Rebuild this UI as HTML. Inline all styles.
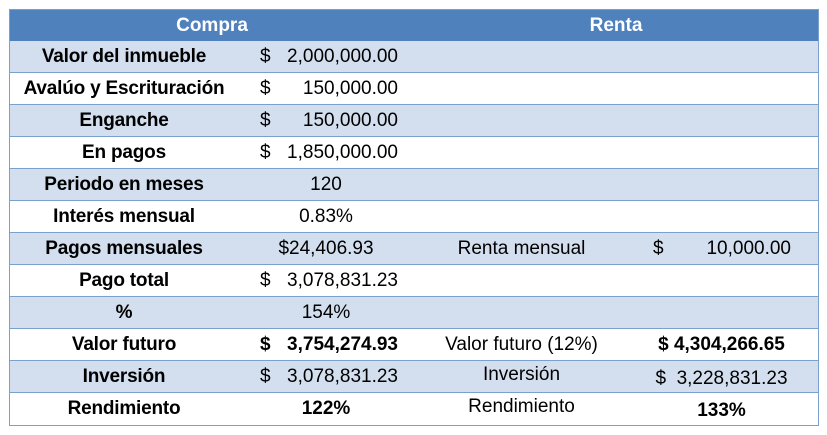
<!DOCTYPE html>
<html><head><meta charset="utf-8">
<style>
html,body{margin:0;padding:0;background:#fff;width:827px;height:435px;overflow:hidden}
body{font-family:"Liberation Sans",sans-serif;}
#tbl{position:absolute;left:9px;top:9px;width:810px;height:417px;border:1px solid #7ba0cd;box-sizing:border-box;}
.row{position:absolute;left:0;width:808px;height:32px;border-bottom:1px solid #7ba0cd;box-sizing:border-box;}
.b{background:#d3dfee}.w{background:#fff}
.hd{background:#4f81bd;color:#fff;font-weight:bold;border-bottom:1px solid #7ba0cd}
.c{position:absolute;top:0;height:31px;line-height:31px;font-size:19px;color:#000;white-space:nowrap}
.l1{left:0;width:228px;text-align:center;font-weight:bold;letter-spacing:-0.2px}
.v2{left:228px;width:160px;}
.v2 .d{position:absolute;left:22px}
.v2 .n{position:absolute;right:0}
.ct2{left:228px;width:176px;text-align:center}
.l3{left:404px;width:215px;text-align:center}
.v4{left:619px;width:162px}
.v4 .d{position:absolute;left:24px}
.v4 .n{position:absolute;right:0}
.ct4{left:619px;width:185px;text-align:center}
.bold{font-weight:bold}
</style></head><body>
<div id="tbl">
 <div class="row hd" style="top:0">
  <div class="c" style="left:0;width:404px;text-align:center;color:#fff">Compra</div>
  <div class="c" style="left:404px;width:404px;text-align:center;color:#fff">Renta</div>
 </div>
 <div class="row b" style="top:31px">
  <div class="c l1">Valor del inmueble</div>
  <div class="c v2"><span class="d">$</span><span class="n">2,000,000.00</span></div>
 </div>
 <div class="row w" style="top:63px">
  <div class="c l1">Avalúo y Escrituración</div>
  <div class="c v2"><span class="d">$</span><span class="n">150,000.00</span></div>
 </div>
 <div class="row b" style="top:95px">
  <div class="c l1">Enganche</div>
  <div class="c v2"><span class="d">$</span><span class="n">150,000.00</span></div>
 </div>
 <div class="row w" style="top:127px">
  <div class="c l1">En pagos</div>
  <div class="c v2"><span class="d">$</span><span class="n">1,850,000.00</span></div>
 </div>
 <div class="row b" style="top:159px">
  <div class="c l1">Periodo en meses</div>
  <div class="c ct2">120</div>
 </div>
 <div class="row w" style="top:191px">
  <div class="c l1">Interés mensual</div>
  <div class="c ct2">0.83%</div>
 </div>
 <div class="row b" style="top:223px">
  <div class="c l1">Pagos mensuales</div>
  <div class="c ct2">$24,406.93</div>
  <div class="c l3">Renta mensual</div>
  <div class="c v4"><span class="d">$</span><span class="n">10,000.00</span></div>
 </div>
 <div class="row w" style="top:255px">
  <div class="c l1">Pago total</div>
  <div class="c v2"><span class="d">$</span><span class="n">3,078,831.23</span></div>
 </div>
 <div class="row b" style="top:287px">
  <div class="c l1">%</div>
  <div class="c ct2">154%</div>
 </div>
 <div class="row w" style="top:319px">
  <div class="c l1">Valor futuro</div>
  <div class="c v2 bold"><span class="d">$</span><span class="n">3,754,274.93</span></div>
  <div class="c l3">Valor futuro (12%)</div>
  <div class="c ct4 bold">$ 4,304,266.65</div>
 </div>
 <div class="row b" style="top:351px">
  <div class="c l1">Inversión</div>
  <div class="c v2"><span class="d">$</span><span class="n">3,078,831.23</span></div>
  <div class="c l3" style="top:-2px">Inversión</div>
  <div class="c ct4" style="top:2px">$&nbsp; 3,228,831.23</div>
 </div>
 <div class="row w" style="top:383px;border-bottom:none;height:32px">
  <div class="c l1">Rendimiento</div>
  <div class="c ct2 bold">122%</div>
  <div class="c l3" style="top:-2px">Rendimiento</div>
  <div class="c ct4 bold" style="top:2px">133%</div>
 </div>
</div>
</body></html>
